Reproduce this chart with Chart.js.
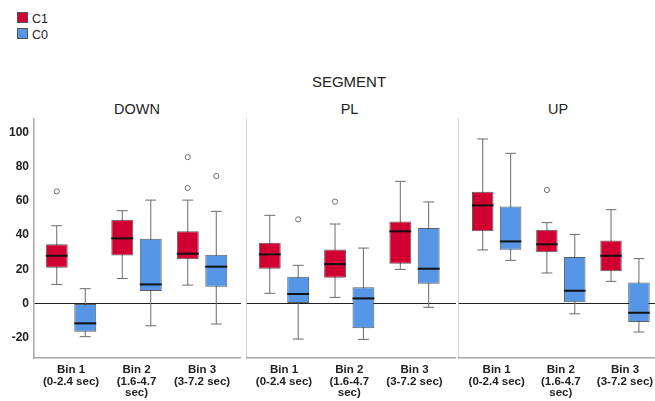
<!DOCTYPE html>
<html>
<head>
<meta charset="utf-8">
<script src="https://cdn.jsdelivr.net/npm/chart.js@4/dist/chart.umd.min.js"></script>
<style>
  body { margin: 0; background: #fff; font-family: "Liberation Sans", Arial, sans-serif; color: #222; }
  #page { position: relative; width: 655px; height: 401px; overflow: hidden; }
  .panel { position: absolute; top: 118px; height: 283px; }
  .txt { position: absolute; white-space: nowrap; transform: translate(-50%, -50%); }
  .sw { position: absolute; left: 17px; width: 11px; height: 11px; border: 1px solid #555; box-sizing: border-box; }
  .lg { position: absolute; left: 32px; font-size: 12.5px; transform: translateY(-50%); }
</style>
</head>
<body>
<div id="page">
  <div class="sw" style="top:12px;background:#d20032"></div>
  <div class="lg" style="top:18.5px">C1</div>
  <div class="sw" style="top:28px;background:#5596e6"></div>
  <div class="lg" style="top:34.5px">C0</div>

  <div class="txt" style="left:349px;top:81px;font-size:15px">SEGMENT</div>
  <div id="titles"></div>

  <div class="panel" style="left:0;width:241px"><canvas id="p0"></canvas></div>
  <div class="panel" style="left:246px;width:210px"><canvas id="p1"></canvas></div>
  <div class="panel" style="left:458px;width:197px"><canvas id="p2"></canvas></div>
</div>
<script>
// ---- data (index: [segment][bin]) ----
const segments = ["DOWN", "PL", "UP"];
const bins = [["Bin 1", "(0-2.4 sec)"], ["Bin 2", "(1.6-4.7", "sec)"], ["Bin 3", "(3-7.2 sec)"]];
const seriesNames = ["C1", "C0"];

const c1Min = [[11.1, 14.6, 10.7], [5.9, 3.5, 19.9], [31.3, 17.8, 12.9]];
const c1Q1  = [[20.9, 28.1, 25.8], [20.3, 15.0, 23.2], [42.2, 29.9, 18.8]];
const c1Med = [[27.9, 38.1, 29.1], [28.7, 23.0, 42.2], [57.4, 34.6, 27.9]];
const c1Q3  = [[34.6, 49.0, 42.2], [35.5, 31.6, 48.0], [65.4, 43.2, 36.9]];
const c1Max = [[45.5, 54.3, 60.5], [51.6, 46.5, 71.5], [96.3, 47.3, 54.9]];
const c1Out = [[[65.6], [], [85.7, 67.6]], [[], [59.6], []], [[], [66.4], []]];

const c0Min = [[-19.5, -13.1, -12.1], [-20.9, -21.1, -2.3], [25.2, -6.1, -16.8]];
const c0Q1  = [[-16.6, 7.2, 9.8], [0.0, -14.6, 11.5], [31.4, 0.6, -10.9]];
const c0Med = [[-11.7, 11.1, 21.5], [5.5, 2.9, 20.3], [36.3, 7.4, -5.5]];
const c0Q3  = [[0.0, 37.9, 28.5], [15.6, 9.4, 44.1], [56.8, 27.1, 12.3]];
const c0Max = [[8.6, 60.5, 53.9], [22.3, 32.4, 59.4], [87.9, 40.4, 26.2]];
const c0Out = [[[], [], [74.6]], [[49.2], [], []], [[], [], []]];

const yTicks = [-20, 0, 20, 40, 60, 80, 100];

// ---- styling ----
const RED = "#d20032";
const BLUE = "#5596e6";
const FRAME = "#a8a8a8";
const WHISKER = "#6b6b6b";
const FONT = "'Liberation Sans', Arial, sans-serif";

const stats = [
  { min: c1Min, q1: c1Q1, med: c1Med, q3: c1Q3, max: c1Max, out: c1Out },
  { min: c0Min, q1: c0Q1, med: c0Med, q3: c0Q3, max: c0Max, out: c0Out },
];

// whiskers behind the boxes, medians and outliers on top
const boxPlot = {
  id: "boxPlot",
  beforeDatasetsDraw(chart) {
    const { ctx } = chart;
    const y = chart.scales.y;
    const s = chart.options.plugins.boxPlot.segment;
    ctx.save();
    ctx.strokeStyle = WHISKER;
    ctx.lineWidth = 1;
    chart.data.datasets.forEach((ds, di) => {
      const st = stats[di];
      chart.getDatasetMeta(di).data.forEach((el, i) => {
        const cap = el.width / 2;
        const yMin = y.getPixelForValue(st.min[s][i]);
        const yMax = y.getPixelForValue(st.max[s][i]);
        ctx.beginPath();
        ctx.moveTo(el.x, yMax);
        ctx.lineTo(el.x, yMin);
        ctx.moveTo(el.x - cap / 2, yMax);
        ctx.lineTo(el.x + cap / 2, yMax);
        ctx.moveTo(el.x - cap / 2, yMin);
        ctx.lineTo(el.x + cap / 2, yMin);
        ctx.stroke();
      });
    });
    ctx.restore();
  },
  afterDatasetsDraw(chart) {
    const { ctx } = chart;
    const y = chart.scales.y;
    const s = chart.options.plugins.boxPlot.segment;
    ctx.save();
    chart.data.datasets.forEach((ds, di) => {
      const st = stats[di];
      chart.getDatasetMeta(di).data.forEach((el, i) => {
        const half = el.width / 2;
        const ym = y.getPixelForValue(st.med[s][i]);
        ctx.strokeStyle = "#111";
        ctx.lineWidth = 2;
        ctx.beginPath();
        ctx.moveTo(el.x - half, ym);
        ctx.lineTo(el.x + half, ym);
        ctx.stroke();

        ctx.strokeStyle = "#707070";
        ctx.fillStyle = "#fff";
        ctx.lineWidth = 1;
        st.out[s][i].forEach((v) => {
          ctx.beginPath();
          ctx.arc(el.x, y.getPixelForValue(v), 2.6, 0, Math.PI * 2);
          ctx.fill();
          ctx.stroke();
        });
      });
    });
    ctx.restore();
  },
};

// x ranges so that the bins sit where SPSS puts them inside each panel
const xRanges = [[-0.565, 2.595], [-0.582, 2.636], [-0.603, 2.468]];

function makePanel(canvasId, s) {
  const showY = s === 0;
  const datasets = stats.map((st, di) => ({
    label: seriesNames[di],
    data: bins.map((b, i) => ({ x: i, y: [st.q1[s][i], st.q3[s][i]] })),
    backgroundColor: di === 0 ? RED : BLUE,
    borderColor: "rgba(40,40,40,0.75)",
    borderWidth: 1,
    borderSkipped: false,
    categoryPercentage: 0.87,
    barPercentage: 0.77,
  }));

  return new Chart(document.getElementById(canvasId), {
    type: "bar",
    data: { datasets },
    plugins: [boxPlot],
    options: {
      responsive: true,
      maintainAspectRatio: false,
      animation: false,
      layout: { padding: 0 },
      plugins: {
        legend: { display: false },
        tooltip: { enabled: false },
        boxPlot: { segment: s },
      },
      scales: {
        x: {
          type: "linear",
          min: xRanges[s][0],
          max: xRanges[s][1],
          offset: false,
          grid: { display: false, drawTicks: false },
          border: { display: true, color: FRAME, width: 1.5 },
          afterBuildTicks: (sc) => { sc.ticks = bins.map((b, i) => ({ value: i })); },
          afterFit: (sc) => { sc.height = 43; sc.paddingLeft = 0; sc.paddingRight = 0; },
          ticks: {
            autoSkip: false,
            maxRotation: 0,
            padding: 6,
            color: "#222",
            font: { family: FONT, size: 11.5, weight: "bold", lineHeight: 1.02 },
            callback: (v) => bins[v],
          },
        },
        y: {
          min: -32,
          max: 108.6,
          grid: {
            drawTicks: false,
            lineWidth: 1,
            color: (c) => (c.tick && c.tick.value === 0 ? "#222" : "rgba(0,0,0,0)"),
          },
          border: { display: true, color: FRAME, width: 1.5 },
          afterBuildTicks: (sc) => { sc.ticks = yTicks.map((v) => ({ value: v })); },
          afterFit: (sc) => { sc.width = showY ? 34 : 0; sc.paddingTop = 0; sc.paddingBottom = 0; },
          ticks: {
            display: showY,
            padding: 5,
            color: "#222",
            font: { family: FONT, size: 12, weight: "bold" },
          },
        },
      },
    },
  });
}

const titleX = [137, 349.5, 558];
const titles = document.getElementById("titles");
segments.forEach((name, s) => {
  const d = document.createElement("div");
  d.className = "txt";
  d.style.left = titleX[s] + "px";
  d.style.top = "108.5px";
  d.style.fontSize = "14.5px";
  d.textContent = name;
  titles.appendChild(d);
  makePanel("p" + s, s);
});
</script>
</body>
</html>
